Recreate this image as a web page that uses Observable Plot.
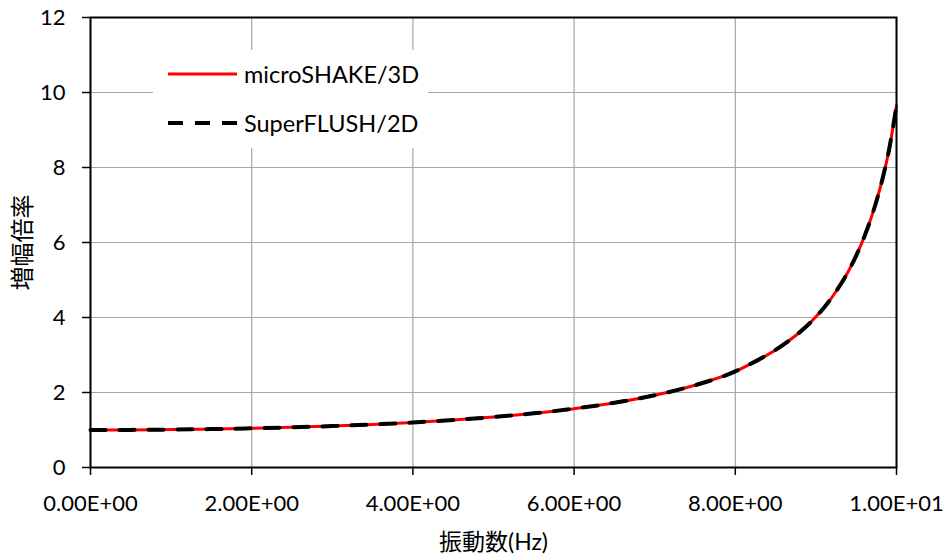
<!DOCTYPE html>
<html>
<head>
<meta charset="utf-8">
<script src="https://cdn.jsdelivr.net/npm/d3@7"></script>
<script src="https://cdn.jsdelivr.net/npm/@observablehq/plot@0.6"></script>
<style>
  html, body { margin: 0; padding: 0; background: #fff; }
  #wrap { position: relative; width: 949px; height: 560px; font-family: Lato, "Noto Sans CJK JP", sans-serif; }
  .legend { position: absolute; left: 153px; top: 50px; width: 275px; height: 98px; background: #fff; }
  .legend .item { position: absolute; left: 0; height: 30px; }
  .legend .label { position: absolute; left: 91px; top: 0; font-size: 23.5px; color: #000; white-space: nowrap; line-height: 30px; }
  .legend svg { position: absolute; left: 15px; top: 11px; }
</style>
</head>
<body>
<div id="wrap"></div>
<script>
// ---- data ----
const freq = [0, 0.5, 1, 1.5, 2, 2.5, 3, 3.5, 4, 4.5, 5, 5.5, 6, 6.5, 7, 7.5, 8, 8.25, 8.5, 8.75, 8.9, 9, 9.1, 9.2, 9.3, 9.4, 9.5, 9.6, 9.7, 9.8, 9.9, 10];
const microShake3D = [1.00, 1.003, 1.011, 1.025, 1.045, 1.071, 1.105, 1.148, 1.20, 1.266, 1.346, 1.445, 1.569, 1.725, 1.927, 2.194, 2.562, 2.83, 3.135, 3.52, 3.80, 4.02, 4.26, 4.54, 4.86, 5.22, 5.65, 6.15, 6.75, 7.48, 8.39, 9.65];
const superFlush2D = [1.00, 1.003, 1.011, 1.025, 1.045, 1.071, 1.105, 1.148, 1.20, 1.266, 1.346, 1.445, 1.569, 1.725, 1.927, 2.194, 2.562, 2.83, 3.135, 3.52, 3.80, 4.02, 4.26, 4.54, 4.86, 5.22, 5.65, 6.15, 6.75, 7.48, 8.39, 9.65];
const seriesNames = ["microSHAKE/3D", "SuperFLUSH/2D"];
const xTicks = [0, 2, 4, 6, 8, 10];
const xTickLabels = ["0.00E+00", "2.00E+00", "4.00E+00", "6.00E+00", "8.00E+00", "1.00E+01"];
const yTicks = [0, 2, 4, 6, 8, 10, 12];
const xTitle = "振動数(Hz)";
const yTitle = "増幅倍率";

// ---- tables ----
const rowsA = freq.map((f, i) => ({f, v: microShake3D[i]}));
const rowsB = freq.map((f, i) => ({f, v: superFlush2D[i]}));
const fmtX = d => xTickLabels[xTicks.indexOf(d)];

const chart = Plot.plot({
  width: 949,
  height: 560,
  marginLeft: 90,
  marginRight: 53,
  marginTop: 17,
  marginBottom: 93,
  style: { fontFamily: 'Lato, "Noto Sans CJK JP", sans-serif', fontSize: "22px", color: "#000", background: "#fff", overflow: "visible" },
  x: { domain: [0, 10] },
  y: { domain: [0, 12] },
  marks: [
    Plot.ruleX(xTicks, { stroke: "#a6a6a6", strokeWidth: 1.2 }),
    Plot.ruleY(yTicks, { stroke: "#a6a6a6", strokeWidth: 1.2 }),
    Plot.axisX({ ticks: xTicks, tickFormat: fmtX, tickSize: 8, tickPadding: 20, stroke: "#000", strokeWidth: 1.5, label: null }),
    Plot.axisY({ ticks: yTicks, tickSize: 8, tickPadding: 17, stroke: "#000", strokeWidth: 1.5, label: null }),
    Plot.line(rowsA, { x: "f", y: "v", stroke: "#ff0000", strokeWidth: 3, curve: "monotone-x" }),
    Plot.line(rowsB, { x: "f", y: "v", stroke: "#000", strokeWidth: 4, strokeDasharray: "15,14", curve: "monotone-x" }),
    Plot.frame({ stroke: "#000", strokeWidth: 2 }),
    Plot.text([xTitle], { frameAnchor: "bottom", textAnchor: "middle", lineAnchor: "middle", dy: 75, fontSize: 23, fill: "#000" }),
    Plot.text([yTitle], { frameAnchor: "left", textAnchor: "middle", lineAnchor: "middle", dx: -67, rotate: -90, fontSize: 24, fill: "#000" })
  ]
});

const wrap = document.getElementById("wrap");
wrap.appendChild(chart);

// ---- legend (inside plot area, white box) ----
const legend = document.createElement("div");
legend.className = "legend";
const styles = [
  { stroke: "#ff0000", width: 3, dash: null, top: 9 },
  { stroke: "#000", width: 4, dash: "15,12", top: 58 }
];
seriesNames.forEach((name, i) => {
  const s = styles[i];
  const item = document.createElement("div");
  item.className = "item";
  item.style.top = s.top + "px";
  item.style.width = "275px";
  item.innerHTML =
    `<svg width="70" height="8"><line x1="0" x2="69" y1="4" y2="4" stroke="${s.stroke}" stroke-width="${s.width}"${s.dash ? ` stroke-dasharray="${s.dash}"` : ""}/></svg>` +
    `<span class="label">${name}</span>`;
  legend.appendChild(item);
});
wrap.appendChild(legend);
</script>
</body>
</html>
